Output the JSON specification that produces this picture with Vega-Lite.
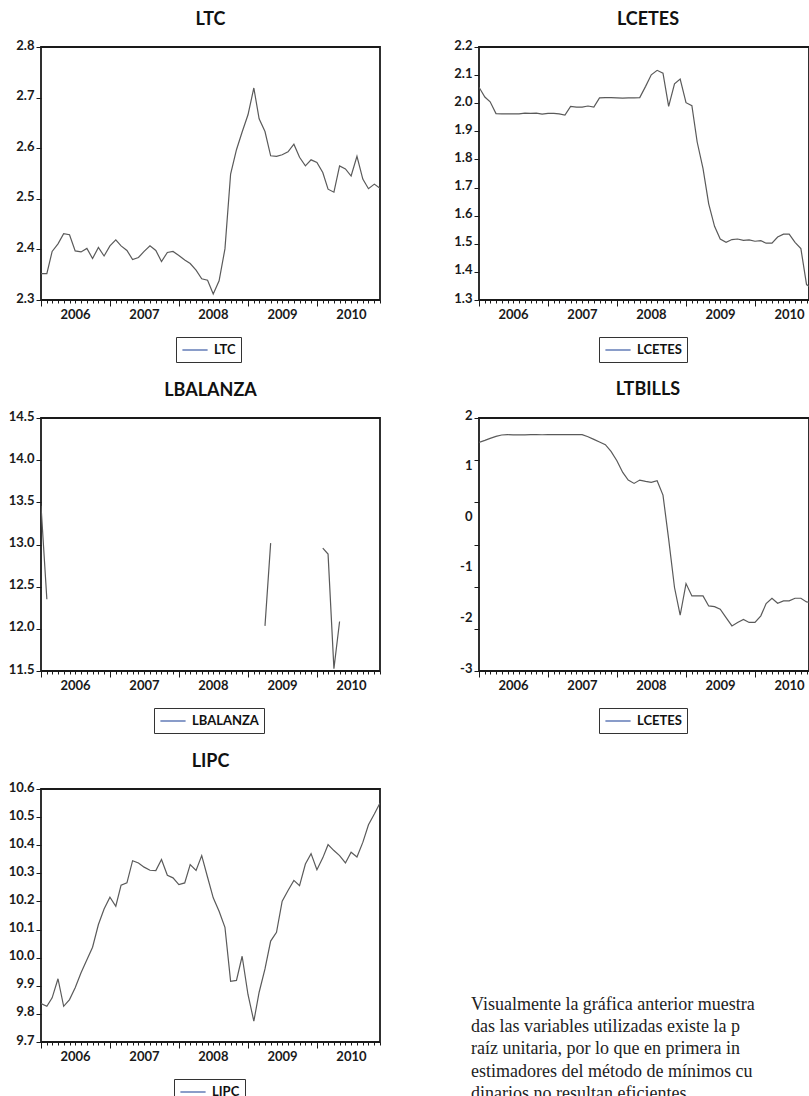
{
"$schema": "https://vega.github.io/schema/vega-lite/v6.json",
"padding": {"left": 7, "top": 9, "right": 0, "bottom": 0},
"background": "white",
"datasets": {
"series": [
{"date":"2006-01","LTC":2.352,"LCETES":2.057,"LBALANZA":13.46,"LTBILLS":1.518,"LIPC":9.837},
{"date":"2006-02","LTC":2.352,"LCETES":2.022,"LBALANZA":12.35,"LTBILLS":1.558,"LIPC":9.827},
{"date":"2006-03","LTC":2.396,"LCETES":2.005,"LBALANZA":null,"LTBILLS":1.598,"LIPC":9.857},
{"date":"2006-04","LTC":2.411,"LCETES":1.963,"LBALANZA":null,"LTBILLS":1.637,"LIPC":9.925},
{"date":"2006-05","LTC":2.431,"LCETES":1.962,"LBALANZA":null,"LTBILLS":1.664,"LIPC":9.827},
{"date":"2006-06","LTC":2.429,"LCETES":1.962,"LBALANZA":null,"LTBILLS":1.670,"LIPC":9.851},
{"date":"2006-07","LTC":2.397,"LCETES":1.962,"LBALANZA":null,"LTBILLS":1.667,"LIPC":9.893},
{"date":"2006-08","LTC":2.395,"LCETES":1.962,"LBALANZA":null,"LTBILLS":1.668,"LIPC":9.946},
{"date":"2006-09","LTC":2.402,"LCETES":1.965,"LBALANZA":null,"LTBILLS":1.668,"LIPC":9.993},
{"date":"2006-10","LTC":2.382,"LCETES":1.964,"LBALANZA":null,"LTBILLS":1.670,"LIPC":10.037},
{"date":"2006-11","LTC":2.404,"LCETES":1.965,"LBALANZA":null,"LTBILLS":1.670,"LIPC":10.118},
{"date":"2006-12","LTC":2.387,"LCETES":1.961,"LBALANZA":null,"LTBILLS":1.669,"LIPC":10.173},
{"date":"2007-01","LTC":2.407,"LCETES":1.964,"LBALANZA":null,"LTBILLS":1.670,"LIPC":10.215},
{"date":"2007-02","LTC":2.419,"LCETES":1.964,"LBALANZA":null,"LTBILLS":1.670,"LIPC":10.183},
{"date":"2007-03","LTC":2.407,"LCETES":1.962,"LBALANZA":null,"LTBILLS":1.671,"LIPC":10.258},
{"date":"2007-04","LTC":2.398,"LCETES":1.958,"LBALANZA":null,"LTBILLS":1.671,"LIPC":10.266},
{"date":"2007-05","LTC":2.380,"LCETES":1.989,"LBALANZA":null,"LTBILLS":1.672,"LIPC":10.345},
{"date":"2007-06","LTC":2.384,"LCETES":1.986,"LBALANZA":null,"LTBILLS":1.672,"LIPC":10.337},
{"date":"2007-07","LTC":2.396,"LCETES":1.986,"LBALANZA":null,"LTBILLS":1.670,"LIPC":10.322},
{"date":"2007-08","LTC":2.407,"LCETES":1.990,"LBALANZA":null,"LTBILLS":1.630,"LIPC":10.311},
{"date":"2007-09","LTC":2.398,"LCETES":1.986,"LBALANZA":null,"LTBILLS":1.578,"LIPC":10.310},
{"date":"2007-10","LTC":2.376,"LCETES":2.019,"LBALANZA":null,"LTBILLS":1.525,"LIPC":10.349},
{"date":"2007-11","LTC":2.394,"LCETES":2.020,"LBALANZA":null,"LTBILLS":1.472,"LIPC":10.293},
{"date":"2007-12","LTC":2.396,"LCETES":2.020,"LBALANZA":null,"LTBILLS":1.340,"LIPC":10.284},
{"date":"2008-01","LTC":2.388,"LCETES":2.019,"LBALANZA":null,"LTBILLS":1.156,"LIPC":10.260},
{"date":"2008-02","LTC":2.379,"LCETES":2.018,"LBALANZA":null,"LTBILLS":0.925,"LIPC":10.266},
{"date":"2008-03","LTC":2.372,"LCETES":2.019,"LBALANZA":null,"LTBILLS":0.773,"LIPC":10.331},
{"date":"2008-04","LTC":2.359,"LCETES":2.019,"LBALANZA":null,"LTBILLS":0.707,"LIPC":10.310},
{"date":"2008-05","LTC":2.342,"LCETES":2.020,"LBALANZA":null,"LTBILLS":0.773,"LIPC":10.363},
{"date":"2008-06","LTC":2.339,"LCETES":2.060,"LBALANZA":null,"LTBILLS":0.747,"LIPC":10.286},
{"date":"2008-07","LTC":2.312,"LCETES":2.101,"LBALANZA":null,"LTBILLS":0.727,"LIPC":10.213},
{"date":"2008-08","LTC":2.338,"LCETES":2.117,"LBALANZA":null,"LTBILLS":0.760,"LIPC":10.165},
{"date":"2008-09","LTC":2.401,"LCETES":2.107,"LBALANZA":null,"LTBILLS":0.476,"LIPC":10.108},
{"date":"2008-10","LTC":2.549,"LCETES":1.989,"LBALANZA":null,"LTBILLS":-0.394,"LIPC":9.916},
{"date":"2008-11","LTC":2.597,"LCETES":2.069,"LBALANZA":null,"LTBILLS":-1.350,"LIPC":9.919},
{"date":"2008-12","LTC":2.632,"LCETES":2.086,"LBALANZA":null,"LTBILLS":-1.898,"LIPC":10.005},
{"date":"2009-01","LTC":2.666,"LCETES":2.002,"LBALANZA":null,"LTBILLS":-1.272,"LIPC":9.869},
{"date":"2009-02","LTC":2.719,"LCETES":1.991,"LBALANZA":null,"LTBILLS":-1.516,"LIPC":9.774},
{"date":"2009-03","LTC":2.658,"LCETES":1.862,"LBALANZA":null,"LTBILLS":-1.516,"LIPC":9.877},
{"date":"2009-04","LTC":2.633,"LCETES":1.767,"LBALANZA":12.035,"LTBILLS":-1.516,"LIPC":9.960},
{"date":"2009-05","LTC":2.585,"LCETES":1.642,"LBALANZA":13.016,"LTBILLS":-1.714,"LIPC":10.059},
{"date":"2009-06","LTC":2.584,"LCETES":1.562,"LBALANZA":null,"LTBILLS":-1.727,"LIPC":10.090},
{"date":"2009-07","LTC":2.587,"LCETES":1.517,"LBALANZA":null,"LTBILLS":-1.780,"LIPC":10.201},
{"date":"2009-08","LTC":2.593,"LCETES":1.505,"LBALANZA":null,"LTBILLS":-1.945,"LIPC":10.239},
{"date":"2009-09","LTC":2.608,"LCETES":1.515,"LBALANZA":null,"LTBILLS":-2.110,"LIPC":10.275},
{"date":"2009-10","LTC":2.582,"LCETES":1.517,"LBALANZA":null,"LTBILLS":-2.040,"LIPC":10.256},
{"date":"2009-11","LTC":2.565,"LCETES":1.512,"LBALANZA":null,"LTBILLS":-1.980,"LIPC":10.333},
{"date":"2009-12","LTC":2.577,"LCETES":1.514,"LBALANZA":null,"LTBILLS":-2.040,"LIPC":10.370},
{"date":"2010-01","LTC":2.572,"LCETES":1.509,"LBALANZA":null,"LTBILLS":-2.040,"LIPC":10.313},
{"date":"2010-02","LTC":2.552,"LCETES":1.511,"LBALANZA":12.957,"LTBILLS":-1.910,"LIPC":10.355},
{"date":"2010-03","LTC":2.519,"LCETES":1.502,"LBALANZA":12.886,"LTBILLS":-1.668,"LIPC":10.402},
{"date":"2010-04","LTC":2.513,"LCETES":1.502,"LBALANZA":11.528,"LTBILLS":-1.562,"LIPC":10.381},
{"date":"2010-05","LTC":2.565,"LCETES":1.524,"LBALANZA":12.087,"LTBILLS":-1.660,"LIPC":10.363},
{"date":"2010-06","LTC":2.559,"LCETES":1.534,"LBALANZA":null,"LTBILLS":-1.615,"LIPC":10.337},
{"date":"2010-07","LTC":2.545,"LCETES":1.534,"LBALANZA":null,"LTBILLS":-1.615,"LIPC":10.375},
{"date":"2010-08","LTC":2.584,"LCETES":1.505,"LBALANZA":null,"LTBILLS":-1.562,"LIPC":10.358},
{"date":"2010-09","LTC":2.539,"LCETES":1.483,"LBALANZA":null,"LTBILLS":-1.562,"LIPC":10.410},
{"date":"2010-10","LTC":2.520,"LCETES":1.355,"LBALANZA":null,"LTBILLS":-1.635,"LIPC":10.473},
{"date":"2010-11","LTC":2.529,"LCETES":1.340,"LBALANZA":null,"LTBILLS":-1.650,"LIPC":10.511},
{"date":"2010-12","LTC":2.521,"LCETES":1.330,"LBALANZA":null,"LTBILLS":-1.660,"LIPC":10.550}
],
"texto": [
{"linea":1,"t":"Visualmente la gráfica anterior muestra"},
{"linea":2,"t":"das las variables utilizadas existe la p"},
{"linea":3,"t":"raíz unitaria, por lo que en primera in"},
{"linea":4,"t":"estimadores del método de mínimos cu"},
{"linea":5,"t":"dinarios no resultan eficientes"}
]
},
"columns": 2,
"spacing": {"row": 118, "column": 99},
"bounds": "flush",
"resolve": {"scale": {"x": "independent", "y": "independent", "color": "independent"}, "axis": {"x": "independent", "y": "independent"}, "legend": {"color": "independent"}},
"concat": [
{
"title": {"text": "LTC"},
"data": {"name": "series"},
"width": 339, "height": 253,
"layer": [
{"mark": {"type": "line", "strokeWidth": 1.2, "clip": true, "color": "#5a5a5a"},
 "encoding": {
  "x": {"field": "date", "type": "temporal", "scale": {"type": "utc", "domain": [{"year": 2006, "month": 1, "date": 1, "utc": true}, {"year": 2010, "month": 12, "date": 1, "utc": true}]}, "axis": {"tickCount": {"interval": "month", "step": 1}, "labels": false, "tickSize": 3, "title": null}},
  "y": {"field": "LTC", "type": "quantitative", "scale": {"domain": [2.3, 2.8], "nice": false, "zero": false}, "axis": {"values": [2.3, 2.4, 2.5, 2.6, 2.7, 2.8], "format": ".1f", "tickSize": 5, "labelPadding": 2, "labelOffset": -2, "title": null}}
 }},
{"mark": {"type": "point", "opacity": 0, "clip": true},
 "encoding": {
  "x": {"field": "date", "type": "temporal", "axis": {"orient": "bottom", "tickCount": {"interval": "year", "step": 1}, "format": "%Y", "tickSize": 6, "labelPadding": 2, "labelOffset": 34, "labelFlush": false, "labelOverlap": false, "title": null}},
  "color": {"datum": "LTC", "type": "nominal", "scale": {"range": ["#3b5ba5"]}, "legend": {"title": null, "orient": "none", "legendX": 135, "legendY": 290, "symbolType": "M-1.8,0H1.8", "symbolOpacity": 1}}
 }}
],
"resolve": {"axis": {"x": "independent"}}
},
{
"title": {"text": "LCETES", "dx": 4},
"data": {"name": "series"},
"width": 330, "height": 253,
"layer": [
{"mark": {"type": "line", "strokeWidth": 1.2, "clip": true, "color": "#5a5a5a"},
 "encoding": {
  "x": {"field": "date", "type": "temporal", "scale": {"type": "utc", "domain": [{"year": 2006, "month": 1, "date": 1, "utc": true}, {"year": 2010, "month": 10, "date": 14, "utc": true}]}, "axis": {"tickCount": {"interval": "month", "step": 1}, "labels": false, "tickSize": 3, "title": null}},
  "y": {"field": "LCETES", "type": "quantitative", "scale": {"domain": [1.3, 2.2], "nice": false, "zero": false}, "axis": {"values": [1.3, 1.4, 1.5, 1.6, 1.7, 1.8, 1.9, 2.0, 2.1, 2.2], "format": ".1f", "tickSize": 5, "labelPadding": 2, "labelOffset": -2, "title": null}}
 }},
{"mark": {"type": "point", "opacity": 0, "clip": true},
 "encoding": {
  "x": {"field": "date", "type": "temporal", "axis": {"orient": "bottom", "tickCount": {"interval": "year", "step": 1}, "format": "%Y", "tickSize": 6, "labelPadding": 2, "labelOffset": 34, "labelFlush": false, "labelOverlap": false, "title": null}},
  "color": {"datum": "LCETES", "type": "nominal", "scale": {"range": ["#3b5ba5"]}, "legend": {"title": null, "orient": "none", "legendX": 120, "legendY": 290, "symbolType": "M-1.8,0H1.8", "symbolOpacity": 1}}
 }}
],
"resolve": {"axis": {"x": "independent"}}
},
{
"title": {"text": "LBALANZA"},
"data": {"name": "series"},
"width": 339, "height": 253,
"layer": [
{"mark": {"type": "line", "strokeWidth": 1.2, "clip": true, "color": "#5a5a5a", "invalid": "break-paths-show-domains"},
 "encoding": {
  "x": {"field": "date", "type": "temporal", "scale": {"type": "utc", "domain": [{"year": 2006, "month": 1, "date": 1, "utc": true}, {"year": 2010, "month": 12, "date": 1, "utc": true}]}, "axis": {"tickCount": {"interval": "month", "step": 1}, "labels": false, "tickSize": 3, "title": null}},
  "y": {"field": "LBALANZA", "type": "quantitative", "scale": {"domain": [11.5, 14.5], "nice": false, "zero": false}, "axis": {"values": [11.5, 12.0, 12.5, 13.0, 13.5, 14.0, 14.5], "format": ".1f", "tickSize": 5, "labelPadding": 2, "labelOffset": -2, "title": null}}
 }},
{"mark": {"type": "point", "opacity": 0, "clip": true},
 "encoding": {
  "x": {"field": "date", "type": "temporal", "axis": {"orient": "bottom", "tickCount": {"interval": "year", "step": 1}, "format": "%Y", "tickSize": 6, "labelPadding": 2, "labelOffset": 34, "labelFlush": false, "labelOverlap": false, "title": null}},
  "color": {"datum": "LBALANZA", "type": "nominal", "scale": {"range": ["#3b5ba5"]}, "legend": {"title": null, "orient": "none", "legendX": 113, "legendY": 290, "symbolType": "M-1.8,0H1.8", "symbolOpacity": 1}}
 }}
],
"resolve": {"axis": {"x": "independent"}}
},
{
"title": {"text": "LTBILLS", "dx": 4},
"data": {"name": "series"},
"width": 330, "height": 253,
"layer": [
{"mark": {"type": "line", "strokeWidth": 1.2, "clip": true, "color": "#5a5a5a"},
 "encoding": {
  "x": {"field": "date", "type": "temporal", "scale": {"type": "utc", "domain": [{"year": 2006, "month": 1, "date": 1, "utc": true}, {"year": 2010, "month": 10, "date": 14, "utc": true}]}, "axis": {"tickCount": {"interval": "month", "step": 1}, "labels": false, "tickSize": 3, "title": null}},
  "y": {"field": "LTBILLS", "type": "quantitative", "scale": {"domain": [-3, 2], "nice": false, "zero": false}, "axis": {"values": [-3, -2, -1, 0, 1, 2], "labelExpr": "'' + datum.value", "ticks": false, "labelPadding": 7, "labelOffset": -3, "title": null}}
 }},
{"mark": {"type": "point", "opacity": 0, "clip": true},
 "encoding": {
  "x": {"field": "date", "type": "temporal", "axis": {"orient": "bottom", "tickCount": {"interval": "year", "step": 1}, "format": "%Y", "tickSize": 6, "labelPadding": 2, "labelOffset": 34, "labelFlush": false, "labelOverlap": false, "title": null}},
  "y": {"field": "LTBILLS", "type": "quantitative", "axis": {"orient": "left", "values": [2, 1.16667, 0.33333, -0.5, -1.33333, -2.16667, -3], "labels": false, "tickSize": 5, "title": null}},
  "color": {"datum": "LCETES", "type": "nominal", "scale": {"range": ["#3b5ba5"]}, "legend": {"title": null, "orient": "none", "legendX": 120, "legendY": 290, "symbolType": "M-1.8,0H1.8", "symbolOpacity": 1}}
 }}
],
"resolve": {"axis": {"x": "independent", "y": "independent"}}
},
{
"title": {"text": "LIPC"},
"data": {"name": "series"},
"width": 339, "height": 253,
"layer": [
{"mark": {"type": "line", "strokeWidth": 1.2, "clip": true, "color": "#5a5a5a"},
 "encoding": {
  "x": {"field": "date", "type": "temporal", "scale": {"type": "utc", "domain": [{"year": 2006, "month": 1, "date": 1, "utc": true}, {"year": 2010, "month": 12, "date": 1, "utc": true}]}, "axis": {"tickCount": {"interval": "month", "step": 1}, "labels": false, "tickSize": 3, "title": null}},
  "y": {"field": "LIPC", "type": "quantitative", "scale": {"domain": [9.7, 10.6], "nice": false, "zero": false}, "axis": {"values": [9.7, 9.8, 9.9, 10.0, 10.1, 10.2, 10.3, 10.4, 10.5, 10.6], "format": ".1f", "tickSize": 5, "labelPadding": 2, "labelOffset": -2, "title": null}}
 }},
{"mark": {"type": "point", "opacity": 0, "clip": true},
 "encoding": {
  "x": {"field": "date", "type": "temporal", "axis": {"orient": "bottom", "tickCount": {"interval": "year", "step": 1}, "format": "%Y", "tickSize": 6, "labelPadding": 2, "labelOffset": 34, "labelFlush": false, "labelOverlap": false, "title": null}},
  "color": {"datum": "LIPC", "type": "nominal", "scale": {"range": ["#3b5ba5"]}, "legend": {"title": null, "orient": "none", "legendX": 133, "legendY": 290, "symbolType": "M-1.8,0H1.8", "symbolOpacity": 1}}
 }}
],
"resolve": {"axis": {"x": "independent"}}
},
{
"data": {"name": "texto"},
"width": 330, "height": 253,
"view": {"stroke": null},
"mark": {"type": "text", "font": "Liberation Serif", "fontSize": 18, "align": "left", "baseline": "alphabetic", "color": "#222"},
"encoding": {
 "x": {"datum": 0, "type": "quantitative", "scale": {"domain": [0.0237, 1]}, "axis": null},
 "y": {"field": "linea", "type": "quantitative", "scale": {"domain": [-8.853, 2.442], "reverse": true}, "axis": null},
 "text": {"field": "t"}
}
}
],
"config": {
 "font": "Lato",
 "view": {"stroke": "#1a1a1a", "strokeWidth": 1.8},
 "axis": {"labelFont": "Lato", "labelFontSize": 13, "labelFontWeight": "bold", "labelColor": "#1a1a1a", "tickColor": "#1a1a1a", "tickWidth": 1, "domain": false, "grid": false},
 "title": {"font": "Lato", "fontSize": 18, "fontWeight": "bold", "color": "#111", "frame": "group", "anchor": "middle", "baseline": "alphabetic", "offset": 10.5},
 "legend": {"strokeColor": "#333", "padding": 5, "labelFont": "Lato", "labelFontSize": 13, "labelFontWeight": "bold", "labelColor": "#111", "symbolSize": 196, "symbolStrokeWidth": 1.2, "symbolOffset": 6, "labelOffset": 11}
}
}
